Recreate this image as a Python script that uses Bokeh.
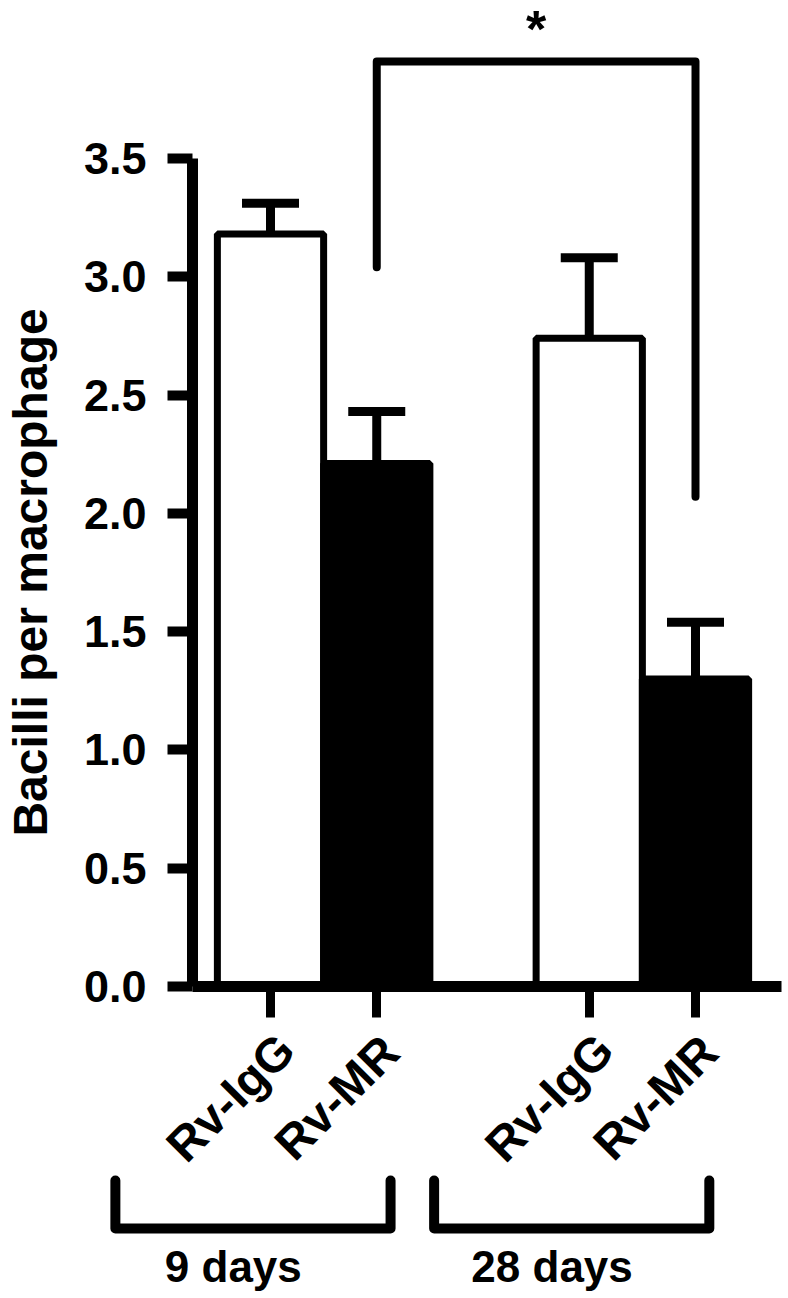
import math
from bokeh.plotting import figure
from bokeh.models import (Range1d, LinearAxis, FixedTicker, Whisker, TeeHead,
                          ColumnDataSource, PrintfTickFormatter)
from bokeh.core.properties import value
from bokeh.embed import file_html
from bokeh.resources import INLINE

# ---------------- data ----------------
categories = ["Rv-IgG", "Rv-MR", "Rv-IgG", "Rv-MR"]
groups = ["9 days", "28 days"]
group_of_bar = [0, 0, 1, 1]
means = [3.18, 2.21, 2.74, 1.30]
sem = [0.13, 0.22, 0.34, 0.24]
bar_colors = ["white", "black", "white", "black"]
y_ticks = [0.0, 0.5, 1.0, 1.5, 2.0, 2.5, 3.0, 3.5]
y_label = "Bacilli per macrophage"
sig_bars = [1, 3]            # compared bars (9 d Rv-MR vs 28 d Rv-MR)
sig_top = 3.91               # bracket height
sig_leg_bottoms = [3.04, 2.07]
sig_text = "*"

# ---------------- layout ----------------
FONT = "Liberation Sans"
W, H = 788, 1298
PX = 106.25                  # px per category slot
PY = 236.6                   # px per y unit
X_POS1 = 270                 # canvas px of slot 1
Y_ZERO = 986                 # canvas px of y = 0
x_start = 1 - X_POS1 / PX
x_end = x_start + W / PX
y_end = Y_ZERO / PY
y_start = y_end - H / PY

def sx(px):   # canvas px -> slot coordinate
    return 1 + (px - X_POS1) / PX

def sy(py):   # canvas px -> y value
    return (Y_ZERO - py) / PY

bar_x = [i + 1 + g for i, g in enumerate(group_of_bar)]
upper = [m + s for m, s in zip(means, sem)]

p = figure(width=W, height=H, x_range=Range1d(x_start, x_end),
           y_range=Range1d(y_start, y_end), x_axis_type=None, y_axis_type=None,
           toolbar_location=None, output_backend="svg", min_border=0,
           outline_line_color=None, background_fill_color="white",
           border_fill_color="white")

yaxis_loc = sx(192)
x_axis_end = sx(781)

# y axis
yax = LinearAxis(fixed_location=yaxis_loc, bounds=(y_ticks[0], y_ticks[-1]),
                 ticker=FixedTicker(ticks=y_ticks, minor_ticks=[]),
                 formatter=PrintfTickFormatter(format="%.1f"),
                 axis_line_width=11, axis_line_color="black",
                 major_tick_out=25, major_tick_in=0, major_tick_line_width=10,
                 minor_tick_out=0, minor_tick_in=0,
                 major_label_text_font=FONT, major_label_text_font_style="bold",
                 major_label_text_font_size="45px", major_label_text_color="black",
                 major_label_standoff=21)
p.add_layout(yax, "left")

# x axis (category names drawn below as slanted texts)
xax = LinearAxis(fixed_location=0, bounds=(yaxis_loc, x_axis_end),
                 ticker=FixedTicker(ticks=bar_x, minor_ticks=[]),
                 major_label_overrides={x: "" for x in bar_x},
                 axis_line_width=11, axis_line_color="black",
                 major_tick_out=31, major_tick_in=0, major_tick_line_width=9,
                 minor_tick_out=0, minor_tick_in=0)
p.add_layout(xax, "below")

p.text(x=bar_x, y=[sy(1097)] * len(bar_x), text=categories, x_offset=-40,
       angle=math.pi / 4, text_font=value(FONT), text_font_style="bold",
       text_font_size="48px", text_align="center", text_baseline="middle",
       text_color="black")

src = ColumnDataSource(dict(x=bar_x, top=means, upper=upper, color=bar_colors))
p.vbar(x="x", top="top", bottom=0, width=1.0, fill_color="color",
       line_color="black", line_width=7, source=src)

p.add_layout(Whisker(base="x", lower="top", upper="upper", source=src,
                     dimension="height", line_width=9, line_color="black",
                     lower_head=None,
                     upper_head=TeeHead(size=57, line_width=9, line_color="black")))

# significance bracket
sx0, sx1 = bar_x[sig_bars[0]], bar_x[sig_bars[1]]
p.line(x=[sx0, sx0, sx1, sx1], y=[sig_leg_bottoms[0], sig_top, sig_top, sig_leg_bottoms[1]],
       line_width=8, line_color="black", line_cap="round", line_join="round")
p.text(x=[(sx0 + sx1) / 2], y=[sy(28)], text=[sig_text],
       text_font=value(FONT), text_font_style="bold", text_font_size="52px",
       text_align="center", text_baseline="alphabetic", text_color="black")

# group brackets and labels
br_top, br_bot = sy(1180), sy(1228)
xs, ys, gx = [], [], []
for g in range(len(groups)):
    members = [bx for bx, gg in zip(bar_x, group_of_bar) if gg == g]
    left, right = members[0] - 1.46, members[-1] + 0.13
    xs.append([left, left, right, right])
    ys.append([br_top, br_bot, br_bot, br_top])
    gx.append(members[0] - 0.35)
p.multi_line(xs=xs, ys=ys, line_width=10, line_color="black",
             line_cap="round", line_join="round")
p.text(x=gx, y=[sy(1266)] * len(groups), text=groups, text_font=value(FONT),
       text_font_style="bold", text_font_size="44px", text_align="center",
       text_baseline="middle", text_color="black")

# y axis title
p.text(x=[sx(30)], y=[(y_ticks[0] + y_ticks[-1]) / 2], text=[y_label],
       angle=math.pi / 2, text_font=value(FONT), text_font_style="bold",
       text_font_size="48px", text_align="center", text_baseline="middle",
       text_color="black")

open("out.html", "w").write(file_html(p, INLINE))
